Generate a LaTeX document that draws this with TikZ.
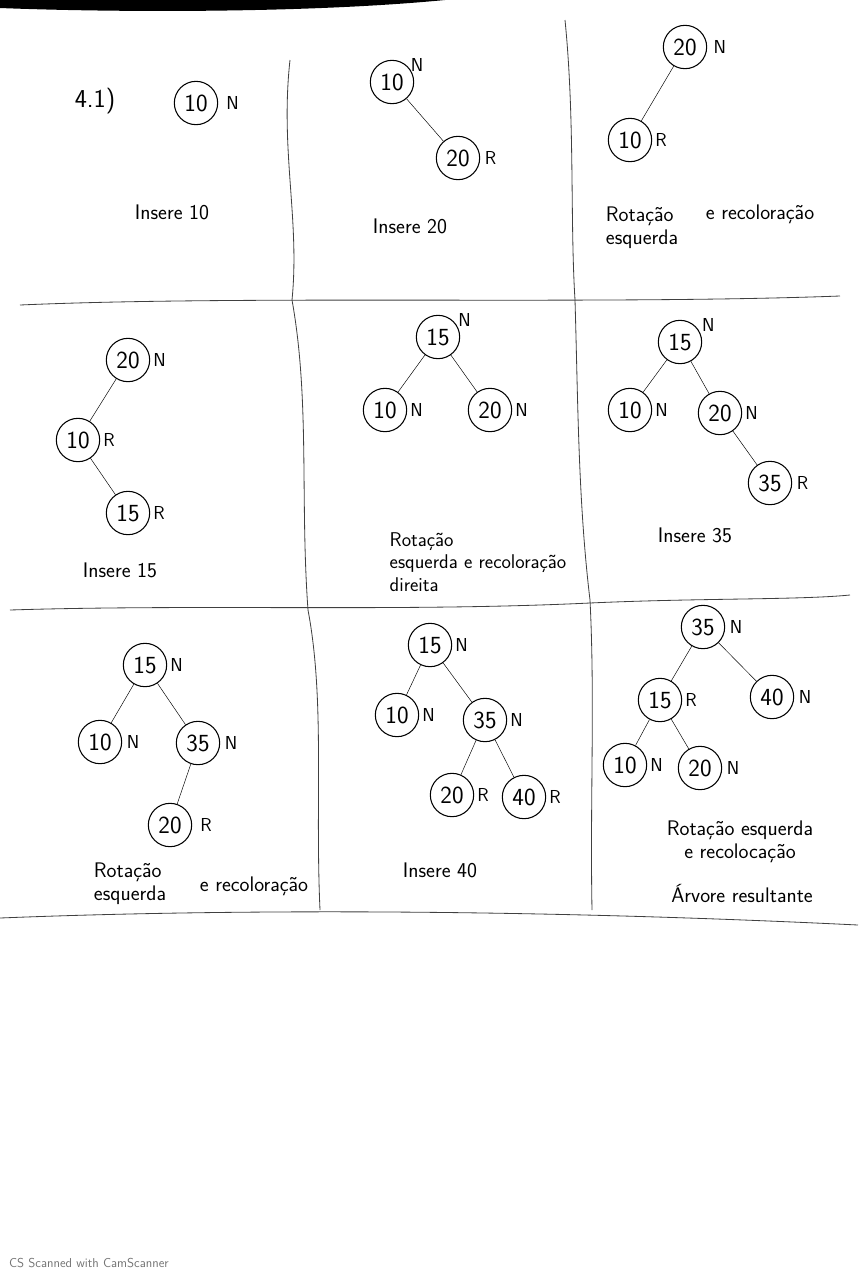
\documentclass[tikz,border=0pt]{standalone}
\usepackage{fontspec}
\usepackage{xcolor}
\usetikzlibrary{positioning}

\begin{document}
\begin{tikzpicture}[x=0.03cm,y=-0.03cm,font=\sffamily,
  rb/.style={draw,circle,line width=0.9pt,minimum size=37pt,inner sep=0pt,font=\sffamily\fontsize{21}{23}\selectfont},
  cor/.style={font=\sffamily\fontsize{16}{18}\selectfont,inner sep=1pt},
  legenda/.style={font=\sffamily\fontsize{18}{20}\selectfont,align=left,inner sep=1pt},
  divisa/.style={line width=0.7pt,black!75}]
\useasboundingbox (0,0) rectangle (858,1280);
% grelha
\fill[black] (0,0) -- (445,0) .. controls (300,14) and (100,12) .. (0,8) -- cycle;
\draw[divisa] (290,60) .. controls (280,150) and (300,220) .. (292,300);
\draw[divisa] (292,300) .. controls (310,400) and (300,500) .. (308,610);
\draw[divisa] (308,610) .. controls (325,700) and (315,800) .. (320,910);
\draw[divisa] (565,20) .. controls (575,120) and (570,220) .. (575,300);
\draw[divisa] (575,300) .. controls (578,400) and (578,500) .. (590,600);
\draw[divisa] (590,600) .. controls (595,700) and (590,800) .. (592,910);
\draw[divisa] (20,305) .. controls (250,295) and (600,305) .. (840,296);
\draw[divisa] (10,610) .. controls (200,604) and (400,612) .. (590,603)
  .. controls (700,598) and (800,600) .. (850,595);
\draw[divisa] (0,918) .. controls (250,908) and (550,910) .. (858,925);

% linha 1
\node[font=\sffamily\fontsize{22}{24}\selectfont] (titulo) at (95,101) {4.1)};
\node[rb] (a10) at (196,103) {10};
\node[cor,right=0.2cm of a10] (a10c) {N};
\node[legenda] (la) at (172,212) {Insere 10};

\node[rb] (b10) at (392,82) {10};
\node[cor,above right=-0.2cm and 0.05cm of b10] (b10c) {N};
\node[rb] (b20) at (458,158) {20};
\node[cor,right=0.1cm of b20] (b20c) {R};
\draw (b10) -- (b20);
\node[legenda] (lb) at (410,226) {Insere 20};

\node[rb] (c20) at (685,47) {20};
\node[cor,right=0.15cm of c20] (c20c) {N};
\node[rb] (c10) at (630,140) {10};
\node[cor,right=0.05cm of c10] (c10c) {R};
\draw (c20) -- (c10);
\node[legenda] (lc) at (642,228) {Rotação\\esquerda};
\node[legenda] (lc2) at (760,214) {e recoloração};

% linha 2
\node[rb] (d20) at (128,360) {20};
\node[cor,right=0.05cm of d20] (d20c) {N};
\node[rb] (d10) at (78,440) {10};
\node[cor,right=0.05cm of d10] (d10c) {R};
\node[rb] (d15) at (128,513) {15};
\node[cor,right=0.05cm of d15] (d15c) {R};
\draw (d20) -- (d10);
\draw (d10) -- (d15);
\node[legenda] (ld) at (120,570) {Insere 15};

\node[rb] (e15) at (438,337) {15};
\node[cor,above right=-0.2cm and 0.1cm of e15] (e15c) {N};
\node[rb] (e10) at (385,410) {10};
\node[cor,right=0.05cm of e10] (e10c) {N};
\node[rb] (e20) at (490,410) {20};
\node[cor,right=0.05cm of e20] (e20c) {N};
\draw (e15) -- (e10);
\draw (e15) -- (e20);
\node[legenda,font=\sffamily\fontsize{17}{19}\selectfont] (le) at (478,562) {Rotação\\esquerda e recoloração\\direita};

\node[rb] (f15) at (680,342) {15};
\node[cor,above right=-0.2cm and 0.15cm of f15] (f15c) {N};
\node[rb] (f10) at (630,410) {10};
\node[cor,right=0.05cm of f10] (f10c) {N};
\node[rb] (f20) at (720,413) {20};
\node[cor,right=0.05cm of f20] (f20c) {N};
\node[rb] (f35) at (770,483) {35};
\node[cor,right=0.1cm of f35] (f35c) {R};
\draw (f15) -- (f10);
\draw (f15) -- (f20);
\draw (f20) -- (f35);
\node[legenda] (lf) at (695,535) {Insere 35};

% linha 3
\node[rb] (g15) at (145,665) {15};
\node[cor,right=0.05cm of g15] (g15c) {N};
\node[rb] (g10) at (100,742) {10};
\node[cor,right=0.1cm of g10] (g10c) {N};
\node[rb] (g35) at (198,743) {35};
\node[cor,right=0.1cm of g35] (g35c) {N};
\node[rb] (g20) at (170,825) {20};
\node[cor,right=0.2cm of g20] (g20c) {R};
\draw (g15) -- (g10);
\draw (g15) -- (g35);
\draw (g35) -- (g20);
\node[legenda] (lg) at (130,884) {Rotação\\esquerda};
\node[legenda] (lg2) at (254,886) {e recoloração};

\node[rb] (h15) at (430,645) {15};
\node[cor,right=0.05cm of h15] (h15c) {N};
\node[rb] (h10) at (397,715) {10};
\node[cor,right=0.05cm of h10] (h10c) {N};
\node[rb] (h35) at (485,720) {35};
\node[cor,right=0.05cm of h35] (h35c) {N};
\node[rb] (h20) at (452,795) {20};
\node[cor,right=0.05cm of h20] (h20c) {R};
\node[rb] (h40) at (524,797) {40};
\node[cor,right=0.05cm of h40] (h40c) {R};
\draw (h15) -- (h10);
\draw (h15) -- (h35);
\draw (h35) -- (h20);
\draw (h35) -- (h40);
\node[legenda] (lh) at (440,870) {Insere 40};

\node[rb] (i35) at (703,627) {35};
\node[cor,right=0.1cm of i35] (i35c) {N};
\node[rb] (i15) at (660,700) {15};
\node[cor,right=0.05cm of i15] (i15c) {R};
\node[rb] (i40) at (772,697) {40};
\node[cor,right=0.1cm of i40] (i40c) {N};
\node[rb] (i10) at (625,765) {10};
\node[cor,right=0.05cm of i10] (i10c) {N};
\node[rb] (i20) at (700,768) {20};
\node[cor,right=0.1cm of i20] (i20c) {N};
\draw (i35) -- (i15);
\draw (i35) -- (i40);
\draw (i15) -- (i10);
\draw (i15) -- (i20);
\node[legenda,align=center] (li) at (740,842) {Rotação esquerda\\e recolocação};
\node[legenda] (li2) at (742,893) {Árvore resultante};

\node[font=\sffamily\fontsize{11}{13}\selectfont,text=black!55,anchor=west] (marca) at (5,1263) {CS Scanned with CamScanner};
\end{tikzpicture}
\end{document}
